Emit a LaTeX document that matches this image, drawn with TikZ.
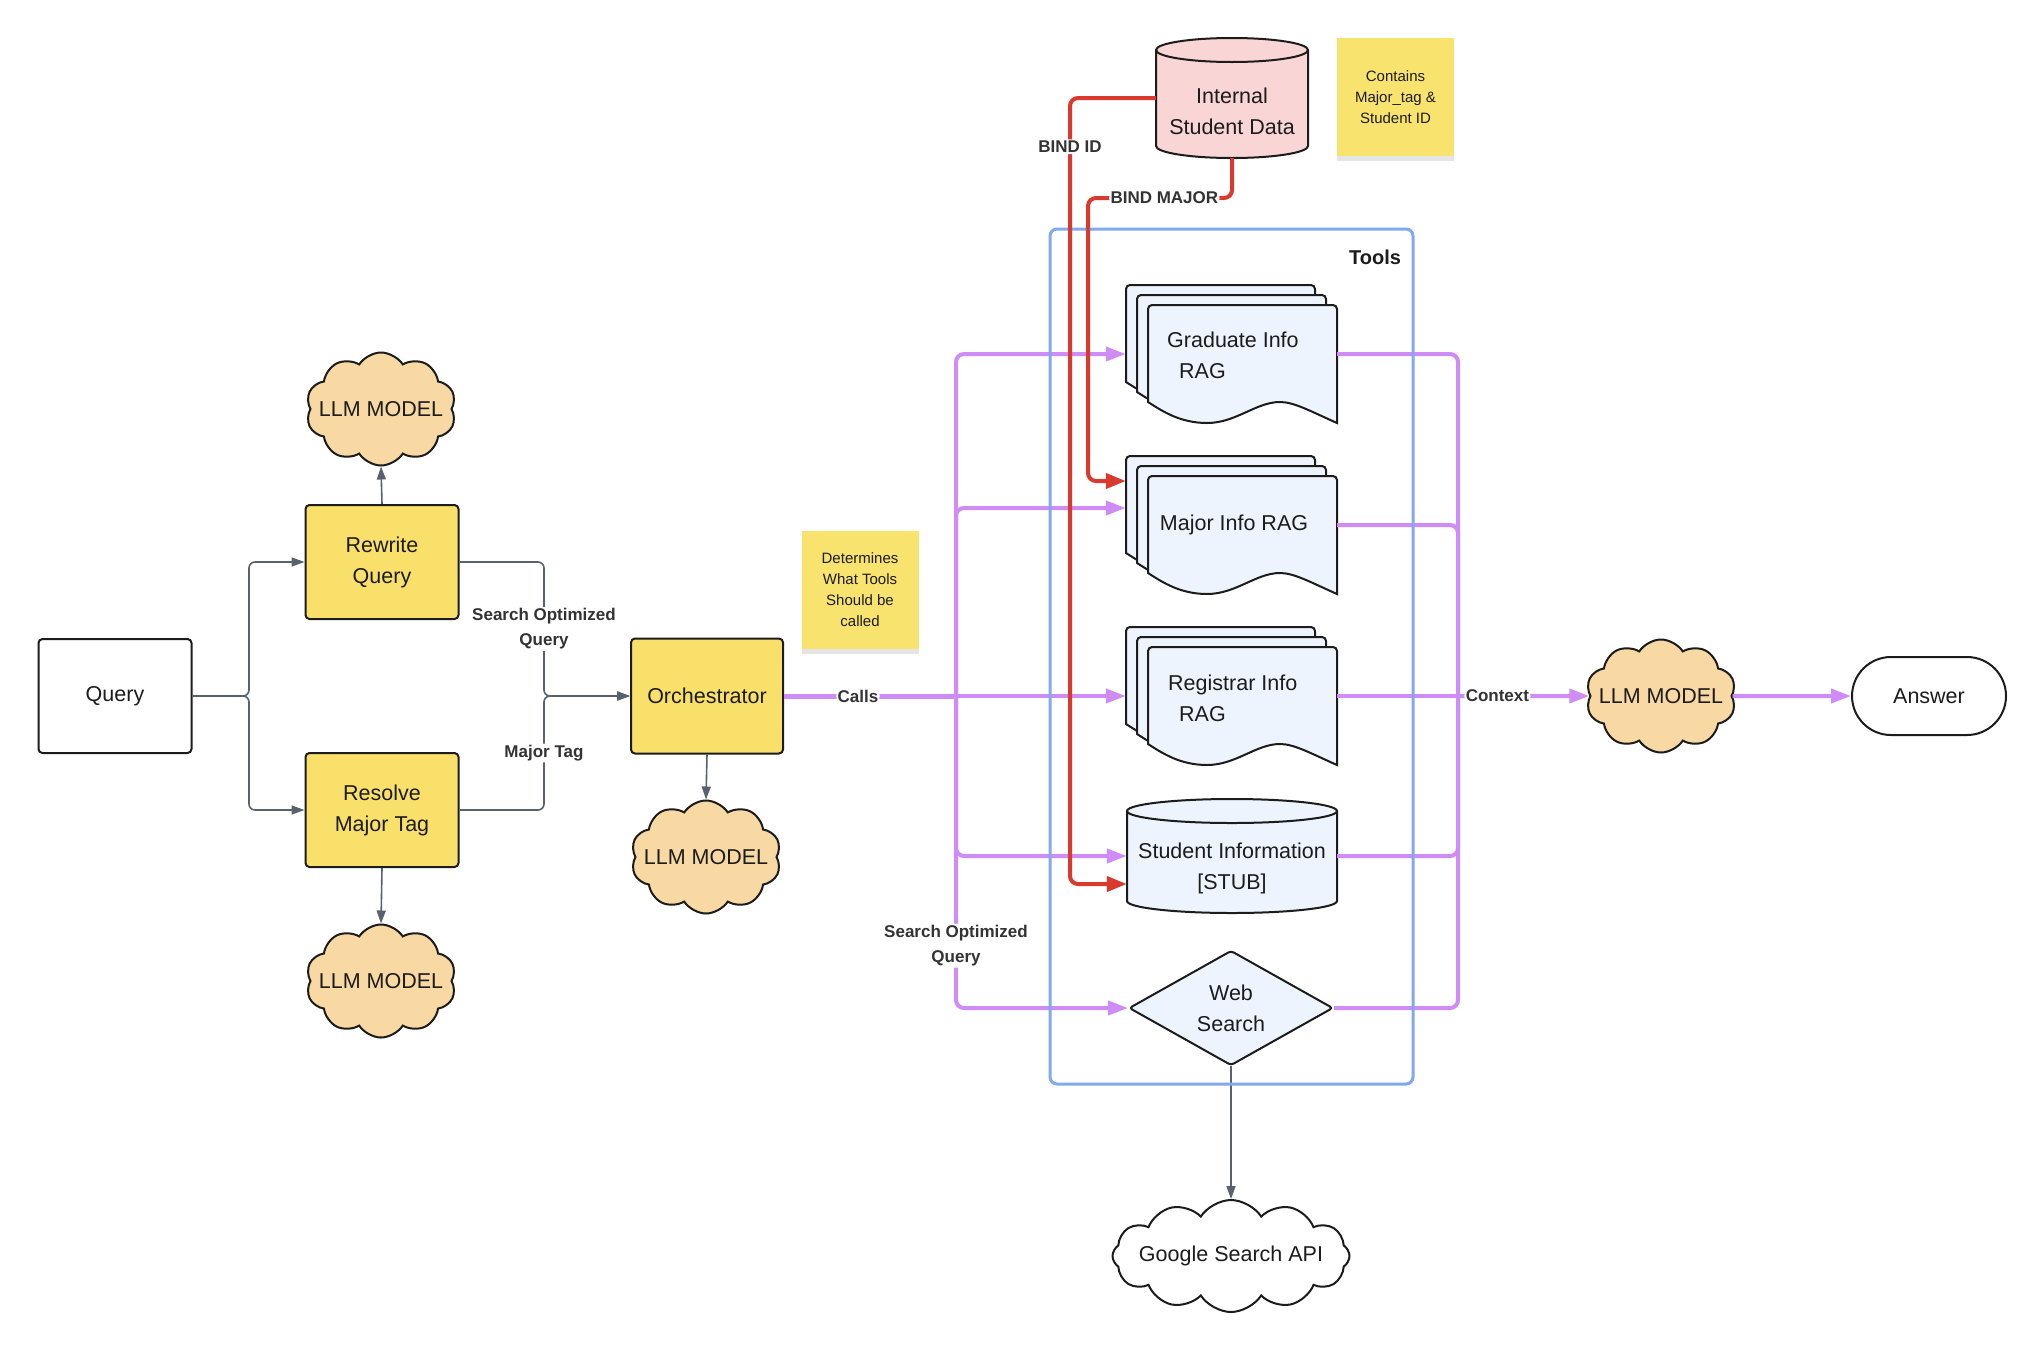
\documentclass[tikz,border=0pt]{standalone}
\usepackage{fontspec}
\setmainfont{Liberation Sans}
\usetikzlibrary{arrows.meta,shapes.geometric,shapes.symbols,shadows,calc}
\definecolor{boxyel}{HTML}{F9E06B}
\definecolor{stickyyel}{HTML}{F8E36F}
\definecolor{cloudfill}{HTML}{F8D8A3}
\definecolor{pinkfill}{HTML}{F9D5D6}
\definecolor{toolfill}{HTML}{EEF4FD}
\definecolor{toolblue}{HTML}{80A9F2}
\definecolor{purp}{HTML}{CF8BF6}
\definecolor{redc}{HTML}{D93A2D}
\definecolor{grayc}{HTML}{58616C}
\definecolor{ink}{HTML}{1C1C1C}
\definecolor{lblink}{HTML}{333333}

\newcommand\mfont{\fontsize{21.5}{31}\selectfont}
\newcommand\lfont{\fontsize{17}{25}\selectfont\bfseries}
\newcommand\sfont{\fontsize{15}{21}\selectfont}

\tikzset{
 every node/.style={font=\mfont, text=ink},
 ybox/.style={draw=ink, line width=2pt, rounded corners=4pt, fill=boxyel, minimum width=153pt, minimum height=114pt, align=center, inner sep=0pt},
 wbox/.style={ybox, fill=white},
 llm/.style={cloud, cloud puffs=10, cloud puff arc=115, cloud ignores aspect, draw=ink, line width=2pt, fill=cloudfill, minimum width=150pt, minimum height=113pt, inner sep=0pt},
 sticky/.style={fill=stickyyel, minimum width=117pt, minimum height=118pt, align=center, font=\sfont, inner sep=0pt, drop shadow={shadow xshift=0pt, shadow yshift=-5pt, opacity=0.2}},
 docpg/.style={draw=ink, line width=2pt, fill=toolfill},
 cylpath/.style={draw=ink, line width=2pt},
 garrow/.style={draw=grayc, line width=1.6pt, -{Triangle[length=13pt,width=9pt]}, rounded corners=6pt},
 parrow/.style={draw=purp, line width=4pt, -{Triangle[length=20pt,width=14pt]}, rounded corners=8pt},
 pline/.style={draw=purp, line width=4pt, rounded corners=8pt},
 rarrow/.style={draw=redc, line width=4pt, -{Triangle[length=20pt,width=15pt]}, rounded corners=8pt},
 lbl/.style={font=\lfont, text=lblink, fill=white, inner sep=1.5pt, align=center},
 shapebox/.style={minimum width=#1, inner sep=0pt, draw=none},
}

\newcommand\docpage[2]{%
 \filldraw[docpg] ({#1},{-(#2)-97}) [rounded corners=4pt] -- ({#1},{-(#2)}) -- ({#1+189},{-(#2)}) [sharp corners] -- ({#1+189},{-(#2)-118})
   .. controls ({#1+162},{-(#2)-106}) and ({#1+146},{-(#2)-97}) .. ({#1+132},{-(#2)-97})
   .. controls ({#1+108},{-(#2)-97}) and ({#1+88},{-(#2)-118}) .. ({#1+59},{-(#2)-118})
   .. controls ({#1+32},{-(#2)-118}) and ({#1+14},{-(#2)-106}) .. ({#1},{-(#2)-97}) -- cycle;}

\newcommand\multidoc[3]{%
 \docpage{#2}{#3}\docpage{#2+11}{#3+10}\docpage{#2+22}{#3+20}%
 \node[minimum width=211pt, minimum height=138pt, inner sep=0pt] (#1) at ({#2+105.5},{-(#3)-69}) {};}

\begin{document}
\begin{tikzpicture}[x=1pt,y=1pt]
\fill[white] (0,0) rectangle (2044,-1355);
\useasboundingbox (0,0) rectangle (2044,-1355);

% ---------------- left part ----------------
\node[wbox] (query) at (115,-696) {Query};
\node[ybox] (rewrite) at (382,-562) {Rewrite\\Query};
\node[ybox] (resolve) at (382,-810) {Resolve\\Major Tag};
\node[ybox, minimum width=152pt, minimum height=115pt] (orch) at (707,-696) {Orchestrator};

\node[llm] (llm1) at (381,-409) {};
\node (llm1t) at (llm1.center) {LLM MODEL};
\node[llm] (llm2) at (381,-981) {};
\node (llm2t) at (llm2.center) {LLM MODEL};
\node[llm] (llm4) at (706,-857) {};
\node (llm4t) at (llm4.center) {LLM MODEL};

\node[sticky] (note1) at (860,-590) {Determines\\What Tools\\Should be\\called};

% ---------------- tools ----------------
\multidoc{grad}{1126}{285}
\node[anchor=west, align=left, inner sep=0pt] (gradt) at (1167,-355) {Graduate Info\\\hspace*{12pt}RAG};
\multidoc{major}{1126}{456}
\node (majt) at (1234,-525) {Major Info RAG};
\multidoc{regi}{1126}{627}
\node[anchor=west, align=left, inner sep=0pt] (regit) at (1168,-698) {Registrar Info\\\hspace*{11pt}RAG};

% Student information cylinder
\filldraw[cylpath, fill=toolfill] (1127,-811) -- (1127,-901) arc[start angle=180,end angle=360,x radius=105,y radius=12] -- (1337,-811) arc[start angle=0,end angle=180,x radius=105,y radius=12] -- cycle;
\draw[cylpath] (1127,-811) arc[start angle=180,end angle=360,x radius=105,y radius=12];
\node[minimum width=210pt, minimum height=114pt, inner sep=0pt] (stud) at (1232,-856) {};
\node[align=center] (studt) at (1232,-868) {Student Information\\{[STUB]}};

\node[diamond, draw=ink, line width=2pt, fill=toolfill, minimum width=204pt, minimum height=113pt, inner sep=0pt, rounded corners=3pt, align=center] (web) at (1231,-1008) {Web\\Search};

% Internal student data cylinder
\filldraw[cylpath, fill=pinkfill] (1156,-50) -- (1156,-146) arc[start angle=180,end angle=360,x radius=76,y radius=12] -- (1308,-50) arc[start angle=0,end angle=180,x radius=76,y radius=12] -- cycle;
\draw[cylpath] (1156,-50) arc[start angle=180,end angle=360,x radius=76,y radius=12];
\node[minimum width=152pt, minimum height=120pt, inner sep=0pt] (isd) at (1232,-98) {};
\node[align=center] (isdt) at (1232,-111.5) {Internal\\Student Data};

\node[sticky] (note2) at (1395.5,-97) {Contains\\Major\_tag \&\\Student ID};

% right part
\node[llm] (llm3) at (1661,-696) {};
\node (llm3t) at (llm3.center) {LLM MODEL};
\node[draw=ink, line width=2pt, fill=white, rounded corners=39pt, minimum width=154pt, minimum height=78pt, inner sep=0pt] (answer) at (1929,-696) {Answer};

\node[llm, fill=white, cloud puffs=12, minimum width=237pt, minimum height=112pt] (google) at (1231,-1256) {};
\node (googlet) at (google.center) {Google Search API};

% ---------------- gray connectors ----------------
\coordinate (br) at (249,-696);
\coordinate (mg) at (544,-696);
\draw[garrow] (query.east) -- (br) |- (rewrite.west);
\draw[garrow] (query.east) -- (br) |- (resolve.west);
\draw[garrow] (rewrite.east) -| node[lbl,pos=0.75]{Search Optimized\\Query} (mg) -- (orch.west);
\draw[garrow] (resolve.east) -| node[lbl,pos=0.75]{Major Tag} (mg) -- (orch.west);
\draw[garrow] (rewrite.north) -- (llm1.south);
\draw[garrow] (resolve.south) -- (llm2.north);
\draw[garrow] (orch.south) -- (llm4.north);
\draw[garrow] (web.south) -- (google.north);

% ---------------- purple connectors ----------------
\coordinate (bus) at (956,-696);
\draw[pline, line width=5pt] (orch.east) -- node[lbl,pos=0.43]{Calls} (bus);
\draw[parrow] (bus) |- (grad.west);
\draw[parrow] (bus) |- ([yshift=17pt]major.west);
\draw[parrow] (bus) -- (regi.west);
\draw[parrow] (bus) |- (stud.west);
\draw[parrow] (bus) |- node[lbl,pos=0.4]{Search Optimized\\Query} (web.west);

\coordinate (ctx) at (1458,-696);
\draw[pline] (grad.east) -| (ctx);
\draw[pline] (major.east) -| (ctx);
\draw[pline] (regi.east) -- (ctx);
\draw[pline] (stud.east) -| (ctx);
\draw[pline] (web.east) -| (ctx);
\draw[parrow] (ctx) -- node[lbl,pos=0.3]{Context} (llm3.west);
\draw[parrow] (llm3.east) -- (answer.west);

% ---------------- tools container ----------------
\node[draw=toolblue, line width=3pt, rounded corners=7pt, minimum width=363pt, minimum height=855pt, inner sep=0pt] (tools) at (1231.5,-656.5) {};
\node[font=\fontsize{20}{24}\selectfont\bfseries] (toolslbl) at (1375,-257) {Tools};

% ---------------- red connectors ----------------
\coordinate (ra) at (1070,-98);
\coordinate (rb) at (1070,-884);
\draw[rarrow] (isd.west) -- (ra) -- node[lbl,pos=0.062]{BIND ID} (rb) -- ([yshift=-28pt]stud.west);
\coordinate (rc) at (1232,-198);
\coordinate (rd) at (1088,-198);
\coordinate (re) at (1088,-481);
\draw[rarrow] (isd.south) -- (rc) -- node[lbl,pos=0.47]{BIND MAJOR} (rd) -- (re) -- ([yshift=44pt]major.west);

\end{tikzpicture}
\end{document}
